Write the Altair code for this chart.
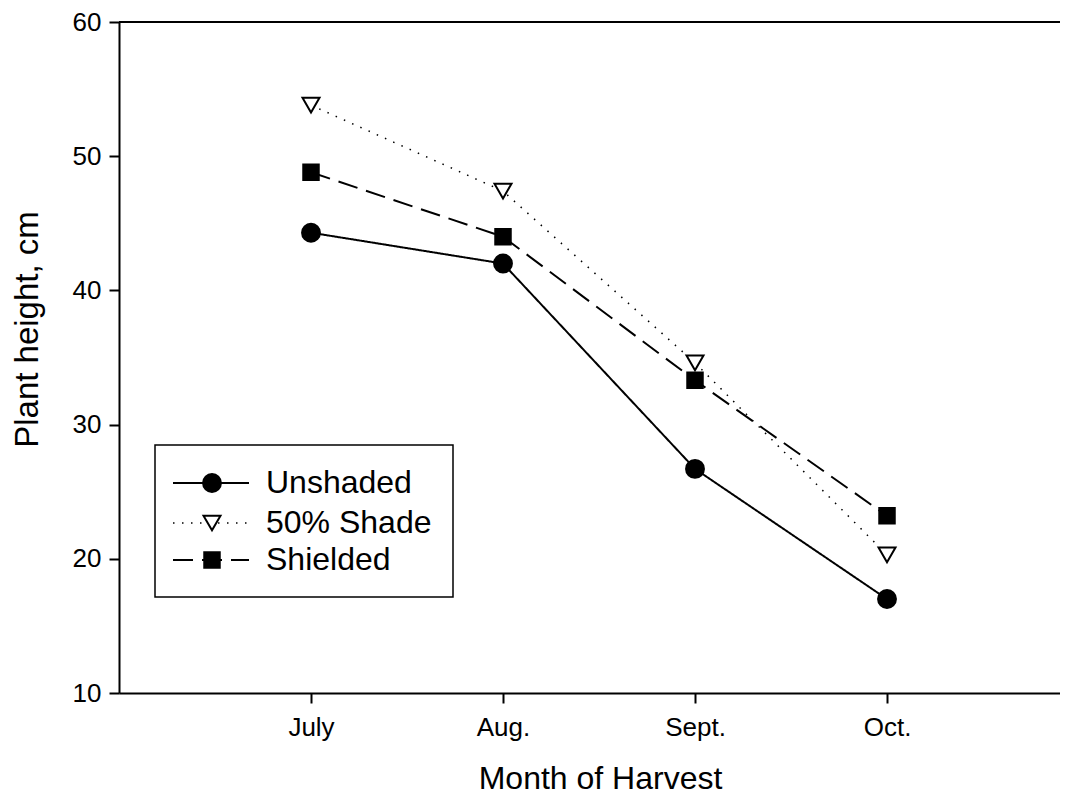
import json
import altair as alt
import pandas as pd

months = ["July", "Aug.", "Sept.", "Oct."]
month_pos = [1, 2, 3, 4]
series_names = ["Unshaded", "50% Shade", "Shielded"]
unshaded = [44.3, 42.0, 26.7, 17.0]
shade50 = [53.8, 47.4, 34.6, 20.3]
shielded = [48.8, 44.0, 33.3, 23.2]
y_ticks = [10, 20, 30, 40, 50, 60]
frame_top = [60]

rows = []
for name, vals in zip(series_names, [unshaded, shade50, shielded]):
    for m, p, v in zip(months, month_pos, vals):
        rows.append({"series": name, "month": m, "pos": p, "height": v})
df = pd.DataFrame(rows)

W, H = 941, 671
FONT = "Liberation Sans"

styles = {
    "Unshaded": dict(dash=[1, 0], shape="circle", fill="black", size=320, sw=2),
    "50% Shade": dict(dash=[1.5, 7.5], shape="triangle-down", fill="white", size=289, sw=1.5),
    "Shielded": dict(dash=[20, 9], shape="square", fill="black", size=240, sw=2),
}

xscale = alt.Scale(domain=[0, 4.901], nice=False, zero=False)
yscale = alt.Scale(domain=[10, 60], nice=False, zero=False)

label_expr = json.dumps([""] + months).replace('"', "'") + "[round(datum.value)]"

x_axis = alt.Axis(
    values=month_pos, labelExpr=label_expr, title="Month of Harvest",
    grid=False, tickSize=10, tickWidth=2, domainWidth=2, domainColor="black",
    tickColor="black", labelFont=FONT, labelFontSize=26, labelColor="black",
    labelPadding=11, titleFont=FONT, titleFontSize=32, titleFontWeight="normal",
    titleColor="black", titleX=481, titleY=95, titleBaseline="alphabetic",
    titleAlign="center",
)
y_axis = alt.Axis(
    values=y_ticks, title="Plant height, cm", grid=False, tickSize=10,
    tickWidth=2, domainWidth=2, domainColor="black", tickColor="black",
    labelFont=FONT, labelFontSize=26, labelColor="black", labelPadding=8,
    titleFont=FONT, titleFontSize=33, titleFontWeight="normal",
    titleColor="black", titleAngle=-90, titleX=-82, titleY=307,
    titleBaseline="alphabetic", titleAlign="center",
)
x_enc = alt.X("pos:Q", scale=xscale, axis=x_axis)
y_enc = alt.Y("height:Q", scale=yscale, axis=y_axis)

layers = []
for name in series_names:
    st = styles[name]
    sub = df[df["series"] == name]
    layers.append(
        alt.Chart(sub).mark_line(color="black", strokeWidth=st["sw"], strokeDash=st["dash"])
        .encode(x=x_enc, y=y_enc)
    )
for name in series_names:
    st = styles[name]
    sub = df[df["series"] == name]
    layers.append(
        alt.Chart(sub).mark_point(
            shape=st["shape"], filled=True, fill=st["fill"], stroke="black",
            strokeWidth=2, size=st["size"], opacity=1,
        ).encode(x=x_enc, y=y_enc)
    )

# top frame line
layers.append(
    alt.Chart(pd.DataFrame({"height": frame_top})).mark_rule(color="black", strokeWidth=2)
    .encode(y=y_enc)
)

# legend box
legend_rows_y = [461, 501, 538]
layers.append(
    alt.Chart(pd.DataFrame({"a": [0]})).mark_rect(
        fill="white", stroke="black", strokeWidth=1.5
    ).encode(x=alt.value(36), x2=alt.value(334), y=alt.value(423), y2=alt.value(575))
)
for name, ry in zip(series_names, legend_rows_y):
    st = styles[name]
    ldf = pd.DataFrame({"series": [name]})
    layers.append(
        alt.Chart(ldf).mark_rule(color="black", strokeWidth=st["sw"], strokeDash=st["dash"])
        .encode(x=alt.value(54), x2=alt.value(130), y=alt.value(ry))
    )
    layers.append(
        alt.Chart(ldf).mark_point(
            shape=st["shape"], filled=True, fill=st["fill"], stroke="black",
            strokeWidth=2, size=st["size"], opacity=1,
        ).encode(x=alt.value(93), y=alt.value(ry))
    )
    layers.append(
        alt.Chart(ldf).mark_text(
            align="left", baseline="middle", font=FONT, fontSize=32, color="black"
        ).encode(x=alt.value(147), y=alt.value(ry), text="series:N")
    )

chart = (
    alt.layer(*layers)
    .properties(
        width=W, height=H,
        autosize=alt.AutoSizeParams(type="none"),
        padding={"left": 111, "top": 14, "right": 0, "bottom": 101},
        background="white",
    )
    .configure_view(stroke=None)
)

chart.save("out.html", embed_options={"renderer": "svg", "actions": False})
